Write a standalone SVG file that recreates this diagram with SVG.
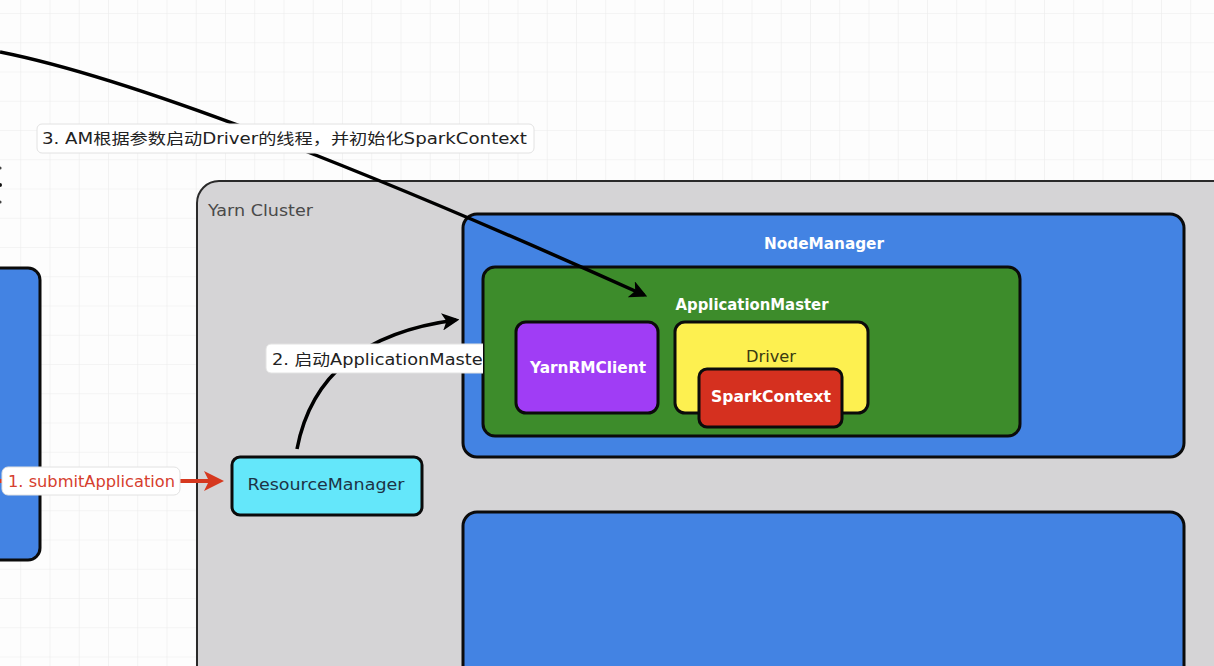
<svg xmlns="http://www.w3.org/2000/svg" width="1214" height="666" viewBox="0 0 1214 666">
<defs>
<pattern id="grid" width="29.25" height="29.25" patternUnits="userSpaceOnUse" x="20.25" y="13">
<path d="M0,0 H29.25 M0,0 V29.25" fill="none" stroke="#ebebeb" stroke-width="1.2"/>
</pattern>
<marker id="ahBlack" viewBox="0 0 10 10" refX="8" refY="5" markerWidth="5" markerHeight="5" orient="auto" markerUnits="strokeWidth">
<path d="M0,0 L10,5 L0,10 L2.5,5 Z" fill="#000"/>
</marker>
<marker id="ahRed" viewBox="0 0 10 10" refX="8" refY="5" markerWidth="5" markerHeight="5" orient="auto" markerUnits="strokeWidth">
<path d="M0,0 L10,5 L0,10 L2.5,5 Z" fill="#d6381f"/>
</marker>
<clipPath id="clipL2"><rect x="260" y="330" width="223" height="60"/></clipPath>
</defs>
<style>
text{font-family:"DejaVu Sans","Noto Sans CJK SC",sans-serif;font-size:15px}
.node{stroke:#0b0b0b;stroke-width:3}
.blue{fill:#4383e3}
.lbl{fill:#ffffff;stroke:#e2e2e2;stroke-width:1}
.w{fill:#ffffff;font-weight:600}
.c{text-anchor:middle}
.conn{fill:none;stroke:#000;stroke-width:3.5}
</style>
<rect width="1214" height="666" fill="#fdfdfd"/>
<rect width="1214" height="666" fill="url(#grid)"/>

<g id="left-fragment">
<circle cx="0" cy="168" r="1.6" fill="#444"/>
<circle cx="0" cy="185" r="2" fill="#111"/>
<circle cx="0" cy="202" r="1.6" fill="#444"/>
</g>

<g id="client-box">
<rect x="-20" y="268" width="60" height="292" rx="12" class="node blue"/>
</g>

<g id="yarn-cluster">
<rect x="197" y="181" width="1040" height="520" rx="22" fill="#d5d4d6" stroke="#2a2a2a" stroke-width="2"/>
<text x="208" y="216" fill="#4a4a4a" textLength="105" lengthAdjust="spacingAndGlyphs">Yarn Cluster</text>
</g>

<g id="nodemanager-2">
<rect x="463" y="512" width="721" height="200" rx="14" class="node blue"/>
</g>

<g id="nodemanager-1">
<rect x="463" y="214" width="721" height="243" rx="14" class="node blue"/>
<text x="824" y="249" class="w c" textLength="120" lengthAdjust="spacingAndGlyphs">NodeManager</text>
</g>

<g id="resourcemanager">
<rect x="232" y="457" width="190" height="58" rx="8" class="node" fill="#64e7fa"/>
<text x="326" y="490" class="c" fill="#1d3446" textLength="157" lengthAdjust="spacingAndGlyphs">ResourceManager</text>
</g>

<g id="applicationmaster">
<rect x="483" y="267" width="537" height="169" rx="12" class="node" fill="#3d8c2b"/>
<text x="752" y="310" class="w c" textLength="153" lengthAdjust="spacingAndGlyphs">ApplicationMaster</text>
</g>

<g id="yarnrmclient">
<rect x="516" y="322" width="142" height="91" rx="10" class="node" fill="#a03df5"/>
<text x="588" y="373" class="w c" textLength="116" lengthAdjust="spacingAndGlyphs">YarnRMClient</text>
</g>

<g id="driver">
<rect x="675" y="322" width="193" height="91" rx="10" class="node" fill="#fdf050"/>
<text x="771" y="362" class="c" fill="#3a3a12" textLength="50" lengthAdjust="spacingAndGlyphs">Driver</text>
</g>

<g id="sparkcontext">
<rect x="699" y="369" width="143" height="58" rx="8" class="node" fill="#d5301f"/>
<text x="771" y="402" class="w c" textLength="120" lengthAdjust="spacingAndGlyphs">SparkContext</text>
</g>

<g id="connectors">
<path d="M297,449 Q318,338 456,320" class="conn" marker-end="url(#ahBlack)"/>
<path d="M-10,481 L220,481" fill="none" stroke="#d6381f" stroke-width="4" marker-end="url(#ahRed)"/>
<path d="M0,52 Q186,89 644,295" class="conn" marker-end="url(#ahBlack)"/>
<g id="label-1">
<rect x="2" y="467" width="178" height="28" rx="6" class="lbl"/>
<text x="8" y="487" fill="#d6402e" textLength="167" lengthAdjust="spacingAndGlyphs">1. submitApplication</text>
</g>
<g id="label-2" clip-path="url(#clipL2)">
<rect x="266" y="344" width="230" height="29" rx="5" class="lbl"/>
<text x="272" y="365" fill="#222" textLength="218" lengthAdjust="spacingAndGlyphs">2. 启动ApplicationMaster</text>
</g>
<g id="label-3">
<rect x="37" y="124" width="497" height="29" rx="5" class="lbl"/>
<text x="42" y="144" fill="#222" textLength="485" lengthAdjust="spacingAndGlyphs">3. AM根据参数启动Driver的线程，并初始化SparkContext</text>
</g>
</g>
</svg>
